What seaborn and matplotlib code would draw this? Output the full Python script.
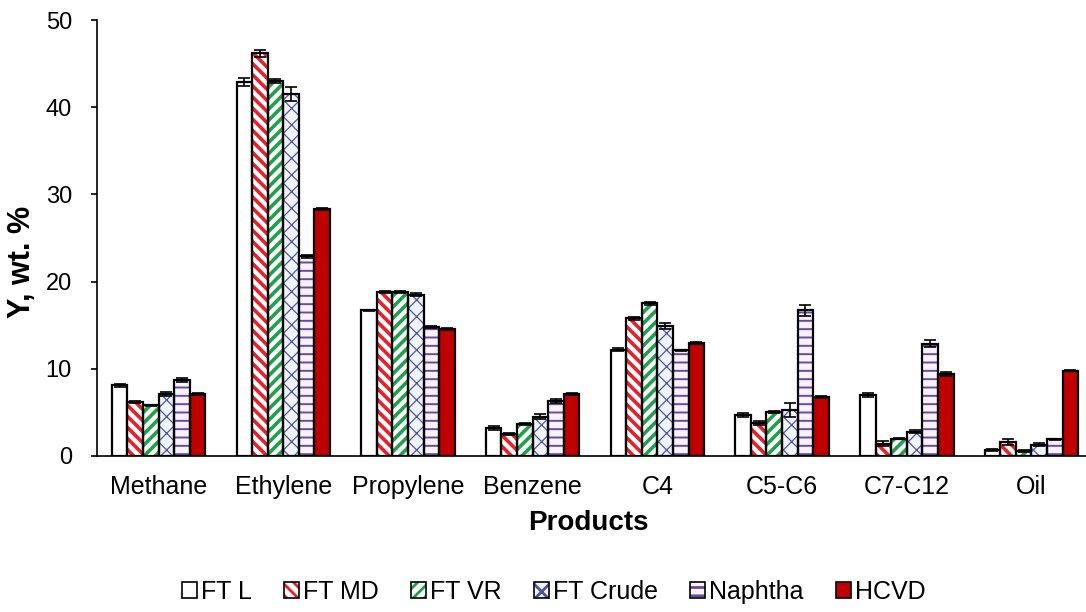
import numpy as np
import pandas as pd
import matplotlib
matplotlib.use("Agg")
import matplotlib.pyplot as plt
import seaborn as sns
from matplotlib.patches import Rectangle, Patch

# data
products = ["Methane", "Ethylene", "Propylene", "Benzene", "C4", "C5-C6", "C7-C12", "Oil"]
samples = ["FT L", "FT MD", "FT VR", "FT Crude", "Naphtha", "HCVD"]

ft_l = [8.1, 42.9, 16.7, 3.2, 12.2, 4.7, 7.0, 0.7]
ft_md = [6.2, 46.2, 18.8, 2.5, 15.8, 3.8, 1.4, 1.6]
ft_vr = [5.8, 43.0, 18.8, 3.7, 17.5, 5.0, 2.0, 0.6]
ft_crude = [7.1, 41.5, 18.5, 4.5, 14.9, 5.3, 2.8, 1.3]
naphtha = [8.7, 22.9, 14.8, 6.3, 12.1, 16.7, 12.9, 1.9]
hcvd = [7.1, 28.3, 14.6, 7.1, 13.0, 6.8, 9.4, 9.8]

err_ft_l = [0.2, 0.5, 0.1, 0.2, 0.2, 0.2, 0.2, 0.1]
err_ft_md = [0.1, 0.4, 0.1, 0.1, 0.2, 0.2, 0.3, 0.3]
err_ft_vr = [0.1, 0.2, 0.1, 0.1, 0.2, 0.1, 0.1, 0.1]
err_ft_crude = [0.2, 0.8, 0.2, 0.3, 0.3, 0.8, 0.2, 0.2]
err_naphtha = [0.2, 0.2, 0.1, 0.2, 0.1, 0.6, 0.4, 0.1]
err_hcvd = [0.1, 0.1, 0.1, 0.1, 0.1, 0.1, 0.2, 0.1]

values = [ft_l, ft_md, ft_vr, ft_crude, naphtha, hcvd]
errors = [err_ft_l, err_ft_md, err_ft_vr, err_ft_crude, err_naphtha, err_hcvd]

# styling per series: fill, hatch colour, hatch, hatch line width
face_colors = ["white", "white", "white", "#f1f3fc", "#f7f2fc", "#c00000"]
hatch_colors = ["black", "#e8202a", "#1fa04a", "#50559a", "#6a4aa0", "#c00000"]
hatches = ["", "\\\\\\", "///", "xx", "--", ""]
hatch_widths = [1.0, 2.6, 2.6, 0.9, 1.4, 1.0]

df = pd.DataFrame({
    "product": np.repeat([products], len(samples), axis=0).ravel(),
    "sample": np.repeat(samples, len(products)),
    "y": np.concatenate(values),
})

plt.rcParams["font.family"] = ["Liberation Sans", "DejaVu Sans"]
plt.rcParams["hatch.linewidth"] = 2.0

fig = plt.figure(figsize=(10.86, 6.12), dpi=100)
ax = fig.add_axes([0.0893, 0.255, 0.911, 0.712])

sns.barplot(data=df, x="product", y="y", hue="sample", order=products,
            hue_order=samples, errorbar=None, width=0.75, ax=ax, legend=False)


def style_patch(p, i):
    p.set_facecolor(face_colors[i])
    p.set_edgecolor(hatch_colors[i])
    p.set_hatch(hatches[i])
    p.set_linewidth(0)
    if hasattr(p, "set_hatch_linewidth"):
        p.set_hatch_linewidth(hatch_widths[i])


bar_containers = list(ax.containers)
for i, cont in enumerate(bar_containers):
    xs = []
    for p in cont.patches:
        style_patch(p, i)
        # black outline on top of the hatched fill
        ax.add_patch(Rectangle(p.get_xy(), p.get_width(), p.get_height(),
                               fill=False, edgecolor="black", linewidth=1.6, zorder=3))
        xs.append(p.get_x() + p.get_width() / 2)
    ax.errorbar(xs, values[i], yerr=errors[i], fmt="none", ecolor="black",
                elinewidth=1.2, capsize=4, capthick=1.2, zorder=4)

ax.set_xlim(-0.494, 7.44)
ax.set_ylim(0, 50)
ax.set_yticks([0, 10, 20, 30, 40, 50])
ax.tick_params(axis="y", labelsize=17, length=4, width=1.2, pad=14)
ax.tick_params(axis="x", labelsize=18, length=0, pad=14)
ax.spines["top"].set_visible(False)
ax.spines["right"].set_visible(False)
ax.spines["left"].set_linewidth(1.2)
ax.spines["bottom"].set_linewidth(1.2)
ax.set_xlabel("Products", fontsize=20, fontweight="bold")
ax.set_ylabel("Y, wt. %", fontsize=22, fontweight="bold")
ax.xaxis.set_label_coords(0.497, -0.123)
ax.yaxis.set_label_coords(-0.061, 0.445)

handles = []
for i in range(len(samples)):
    h = Patch()
    style_patch(h, i)
    handles.append((h, Patch(fill=False, edgecolor="black", linewidth=1.2)))
fig.legend(handles, samples, loc="center", bbox_to_anchor=(0.51, 0.033),
           ncol=6, frameon=False, fontsize=18, handlelength=0.6, handleheight=0.6,
           handletextpad=0.15, columnspacing=1.3)

fig.savefig("out.png", dpi=100)
